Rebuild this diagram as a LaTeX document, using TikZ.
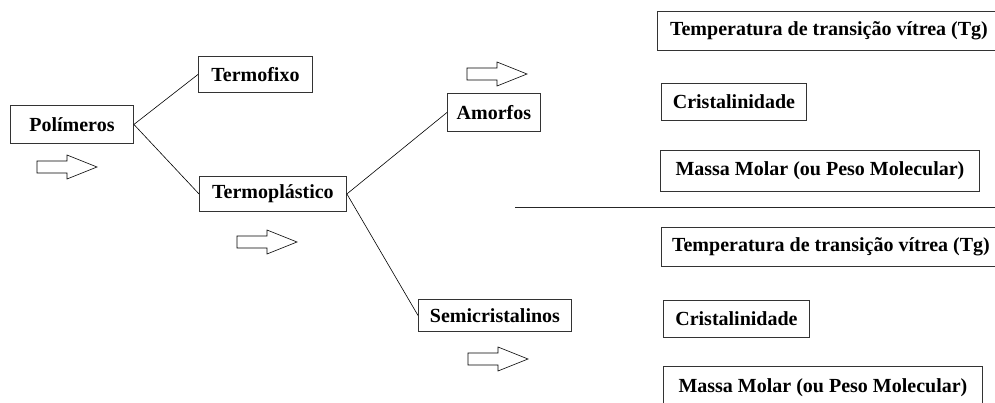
\documentclass[tikz,border=0pt]{standalone}
\usepackage{fontspec}
\setmainfont{Liberation Serif}
\usepackage{tikz}
\usetikzlibrary{positioning}

\begin{document}
\begin{tikzpicture}[
    x=1pt, y=-1pt,
    every node/.style={font=\fontsize{20}{22}\selectfont\bfseries},
    class/.style={rectangle,draw=black!80,line width=0.9pt,inner sep=0pt,anchor=north west,align=center},
    link/.style={line width=0.6pt},
    fatarrow/.pic={\draw[line width=0.6pt] (0,-6)--(30,-6)--(30,-12)--(60,0)--(30,12)--(30,6)--(0,6)--cycle;}
]
\useasboundingbox (0,0) rectangle (995,403);
% left part of the tree
\node[class,minimum width=123pt,minimum height=38pt] (pol) at (10,105) {Polímeros};
\node[class,minimum width=114pt,minimum height=36pt] (tfix) at (198,56) {Termofixo};
\node[class,minimum width=147pt,minimum height=35pt] (tpla) at (199,176) {Termoplástico};
\node[class,minimum width=93pt,minimum height=38pt] (amo) at (447,93) {Amorfos};
\node[class,minimum width=153pt,minimum height=32pt] (semi) at (418,299) {Semicristalinos};
\draw[link] (pol.east) -- (tfix.west);
\draw[link] (pol.east) -- (tpla.west);
\draw[link] (tpla.east) -- (amo.west);
\draw[link] (tpla.east) -- (semi.west);
% hollow arrows
\pic at (37,167) {fatarrow};
\pic at (237,242) {fatarrow};
\pic at (467,74) {fatarrow};
\pic at (468,359) {fatarrow};
% properties, amorfos
\node[class,minimum width=343pt,minimum height=39pt] (tg1) at (657,11) {Temperatura de transição vítrea (Tg)};
\node[class,minimum width=145pt,minimum height=37pt] (cri1) at (661,83) {Cristalinidade};
\node[class,minimum width=319pt,minimum height=41pt] (mm1) at (660,150) {Massa Molar (ou Peso Molecular)};
\coordinate (sepl) at (515,207.5);
\coordinate (sepr) at (1000,207.5);
\draw[line width=1.1pt,black!85] (sepl) -- (sepr);
% properties, semicristalinos
\node[class,minimum width=339pt,minimum height=39pt] (tg2) at (661,227) {Temperatura de transição vítrea (Tg)};
\node[class,minimum width=146pt,minimum height=37pt] (cri2) at (663,300) {Cristalinidade};
\node[class,minimum width=319pt,minimum height=42pt] (mm2) at (663,366) {\raisebox{3pt}{Massa Molar (ou Peso Molecular)}};
\end{tikzpicture}
\end{document}
